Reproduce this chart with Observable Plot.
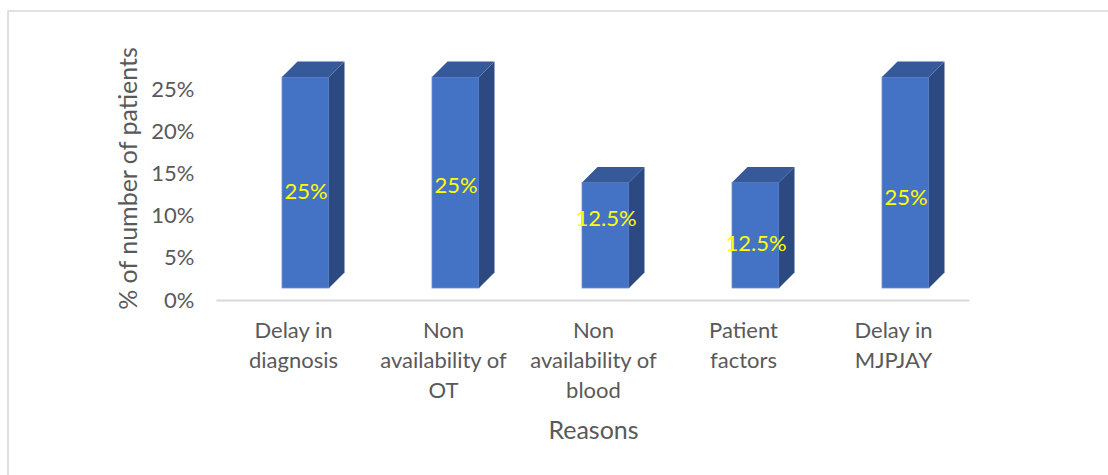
<!DOCTYPE html>
<html><head><meta charset="utf-8">
<script src="https://cdn.jsdelivr.net/npm/d3@7"></script>
<script src="https://cdn.jsdelivr.net/npm/@observablehq/plot@0.6"></script>
<style>body{margin:0;background:#fff;} #chart svg{display:block;}</style>
</head><body><div id="chart"></div>
<script>
// ---- data ----
const categories = ["Delay in diagnosis", "Non availability of OT", "Non availability of blood", "Patient factors", "Delay in MJPJAY"];
const categoryLabels = ["Delay in\ndiagnosis", "Non\navailability of\nOT", "Non\navailability of\nblood", "Patient\nfactors", "Delay in\nMJPJAY"];
const values = [25, 25, 12.5, 12.5, 25];
const valueLabels = ["25%", "25%", "12.5%", "12.5%", "25%"];
const yTicks = [0, 5, 10, 15, 20, 25];
const yTickLabels = ["0%", "5%", "10%", "15%", "20%", "25%"];
const xTitle = "Reasons";
const yTitle = "% of number of patients";

// ---- style ----
const FRONT = "#4472C4", TOP = "#36599a", SIDE = "#2c4a81";
const LIFT = -12, DX = 15.5, DY = -15.5;
const labelNudge = [8.5, 2.5, -17, 8, 14.5];
const idx = values.map((_, i) => i);

function depthFaces(index, scales) {
  const g = d3.create("svg:g");
  // chart area border (top & left visible)
  g.append("path").attr("d", "M8,1200V11H1200").attr("fill", "none")
    .attr("stroke", "#d9d9d9").attr("stroke-width", 1.6);
  const bw = scales.x.bandwidth();
  idx.forEach(i => {
    const x0 = scales.x(categories[i]), x1 = x0 + bw;
    const yb = scales.y(0) + LIFT, yt = scales.y(values[i]) + LIFT;
    g.append("path")
      .attr("d", `M${x1},${yt}L${x1 + DX},${yt + DY}L${x1 + DX},${yb + DY}L${x1},${yb}Z`)
      .attr("fill", SIDE);
    g.append("path")
      .attr("d", `M${x0},${yt}L${x0 + DX},${yt + DY}L${x1 + DX},${yt + DY}L${x1},${yt}Z`)
      .attr("fill", TOP);
  });
  return g.node();
}

const plot = Plot.plot({
  width: 1108, height: 475,
  marginLeft: 229, marginRight: 126, marginTop: 56, marginBottom: 175,
  style: {fontFamily: "Lato, 'Open Sans', sans-serif", fontSize: "22px", color: "#595959", background: "#fff"},
  x: {type: "band", domain: categories, range: [229.25, 981.75], paddingInner: 0.684, paddingOuter: 0.342, axis: null},
  y: {domain: [0, 25], range: [300, 89], axis: null},
  marks: [
    Plot.ruleY([0], {stroke: "#d9d9d9", strokeWidth: 2, dx: -12.5}),
    Plot.text(yTicks, {y: d => d, text: (d, i) => yTickLabels[i], frameAnchor: "left", textAnchor: "end", dx: -35, fill: "#595959", fontSize: 22}),
    Plot.barY(idx, {x: i => categories[i], y: i => values[i], fill: FRONT, dy: LIFT, stroke: "#6f8fd2", strokeWidth: 0.8}),
    depthFaces,
    ...idx.map(i => Plot.text([i], {x: j => categories[j], y: j => values[j] / 2, text: j => valueLabels[j], dy: LIFT + labelNudge[i], fill: "#FFFF00", fontSize: 22})),
    Plot.text(idx, {x: i => categories[i], text: i => categoryLabels[i], frameAnchor: "bottom", lineAnchor: "top", textAnchor: "middle", dy: 16, dx: -12.5, lineHeight: 1.36, fill: "#595959", fontSize: 22}),
    Plot.text([xTitle], {frameAnchor: "bottom", lineAnchor: "middle", textAnchor: "middle", dy: 130, dx: -12.5, fill: "#595959", fontSize: 25}),
    Plot.text([yTitle], {frameAnchor: "left", rotate: -90, textAnchor: "middle", lineAnchor: "middle", dx: -101, fill: "#595959", fontSize: 25})
  ]
});
document.getElementById("chart").appendChild(plot);
</script>
</body></html>
